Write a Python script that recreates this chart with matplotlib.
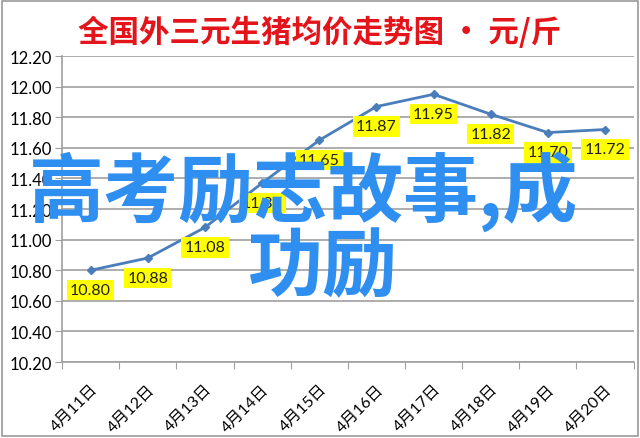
import numpy as np
import matplotlib
matplotlib.use("Agg")
from matplotlib import pyplot as plt

# data
dates = ["4月11日", "4月12日", "4月13日", "4月14日", "4月15日",
         "4月16日", "4月17日", "4月18日", "4月19日", "4月20日"]
prices = [10.80, 10.88, 11.08, 11.37, 11.65, 11.87, 11.95, 11.82, 11.70, 11.72]
y_ticks = [10.20, 10.40, 10.60, 10.80, 11.00, 11.20, 11.40, 11.60, 11.80, 12.00, 12.20]

title = "全国外三元生猪均价走势图 · 元/斤"
overlay1 = "高考励志故事,成"
overlay2 = "功励"

plt.rcParams['font.family'] = ['Lato', 'Noto Sans CJK SC', 'DejaVu Sans']

fig = plt.figure(figsize=(6.4, 4.39), dpi=100)
ax = fig.add_axes([0.097, 0.173, 0.893, 0.697])

x = np.arange(len(dates))
ax.plot(x, prices, color='#4a7ebb', lw=2, marker='D', ms=4, zorder=3)
for xi, p in zip(x, prices):
    ax.text(xi, p - 0.13, "%.2f" % p, ha='center', va='center', fontsize=11.5,
            color='#222222', zorder=4,
            bbox=dict(boxstyle='square,pad=0.2', fc='#ffff00', ec='none'))

ax.set_xlim(-0.5, len(dates) - 0.5)
ax.set_ylim(10.20, 12.20)
ax.set_yticks(y_ticks)
ax.set_yticklabels(["%.2f" % t for t in y_ticks], fontsize=12)
ax.yaxis.grid(True, color='#a0a0a0', lw=1.2)
ax.set_axisbelow(True)
ax.tick_params(axis='y', length=5, color='#a0a0a0', pad=2)

ax.set_xticks(np.arange(len(dates) + 1) - 0.5)
ax.set_xticklabels([])
ax.set_xticks(x, minor=True)
ax.set_xticklabels(dates, minor=True, rotation=45, ha='right', va='top',
                   rotation_mode='anchor', fontsize=11.5)
ax.tick_params(axis='x', which='major', length=5, color='#a0a0a0')
ax.tick_params(axis='x', which='minor', length=0, pad=14)

for s in ['top', 'right']:
    ax.spines[s].set_visible(False)
for s in ['left', 'bottom']:
    ax.spines[s].set_color('#a0a0a0')
    ax.spines[s].set_linewidth(1.2)

fig.text(0.5, 0.925, title, ha='center', va='center', fontsize=22,
         color='#e3151b', weight='bold', family=['Noto Sans CJK SC', 'DejaVu Sans'])

# big overlay text drawn across the chart
fig.text(0.475, 0.562, overlay1, ha='center', va='center', fontsize=54,
         color='#2f8ff0', weight='bold', family=['Noto Sans CJK SC', 'DejaVu Sans'],
         zorder=10)
fig.text(0.503, 0.39, overlay2, ha='center', va='center', fontsize=54,
         color='#2f8ff0', weight='bold', family=['Noto Sans CJK SC', 'DejaVu Sans'],
         zorder=10)

# grey border round the whole picture
fig.patches.append(plt.Rectangle((0.003, 0.004), 0.994, 0.992, transform=fig.transFigure,
                                 fill=False, ec='#9a9a9a', lw=1.2))

fig.savefig("out.png", dpi=100)
